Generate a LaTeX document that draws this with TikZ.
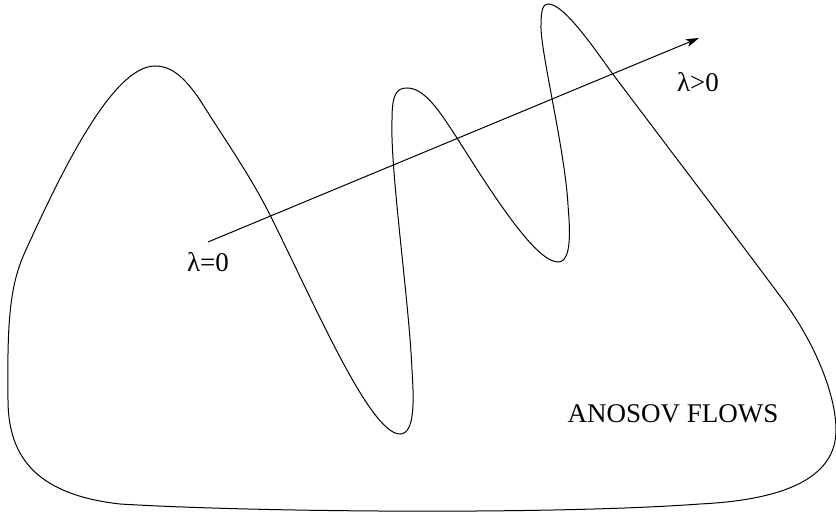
\documentclass[tikz,border=0pt]{standalone}
\usepackage{fontspec}
\setmainfont{Liberation Serif}
\usetikzlibrary{arrows.meta, positioning}

\begin{document}
\begin{tikzpicture}[
  x=0.5pt, y=-0.5pt,
  region/.style={line width=0.5pt},
  arrow/.style={-{Stealth[length=6.5pt, width=4pt, inset=1.5pt]}, line width=0.5pt},
  label/.style={font=\fontsize{13.5}{15}\selectfont, inner sep=0pt}
]
\useasboundingbox (0,0) rectangle (836,517);
% the set of Anosov flows
\draw[region] (8,400) .. controls (7,320) and (10,285) .. (25,252)
  .. controls (60,175) and (112,66) .. (155,66)
  .. controls (172,66) and (185,78) .. (200,100)
  .. controls (225,140) and (250,175) .. (270,215)
  .. controls (315,305) and (370,434) .. (400,434)
  .. controls (415,434) and (414,400) .. (412,370)
  .. controls (409,300) and (390,170) .. (392,120)
  .. controls (392,95) and (396,88) .. (407,88)
  .. controls (425,88) and (440,112) .. (457,138)
  .. controls (490,190) and (535,262) .. (558,262)
  .. controls (572,262) and (570,230) .. (568,205)
  .. controls (565,150) and (540,50) .. (541,25)
  .. controls (541,10) and (543,4) .. (548,4)
  .. controls (562,4) and (585,35) .. (612,73)
  .. controls (670,150) and (740,242) .. (783,300)
  .. controls (815,343) and (836,395) .. (836,430)
  .. controls (836,480) and (780,500) .. (700,504)
  .. controls (550,515) and (250,512) .. (120,504)
  .. controls (40,495) and (8,460) .. cycle;

\coordinate (start) at (208,242);
\coordinate (tip) at (699,38);
\draw[arrow] (start) -- (tip);

\node[label] (zero) at (208,262) {λ=0};
\node[label] (pos) at (698,82) {λ>0};
\node[label] (anosov) at (673,414) {ANOSOV FLOWS};
\end{tikzpicture}
\end{document}
